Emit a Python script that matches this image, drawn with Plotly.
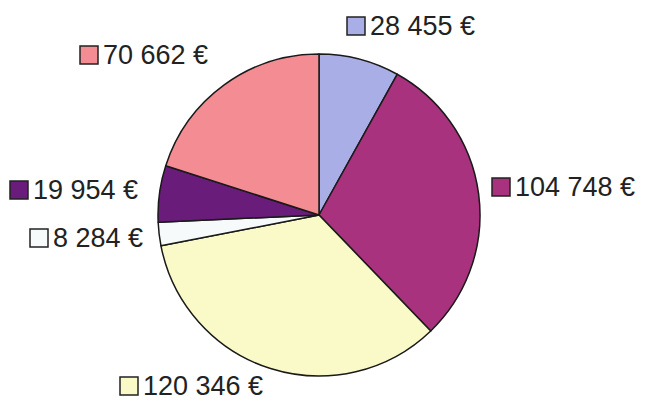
import plotly.graph_objects as go

labels = ["28 455 €", "104 748 €", "120 346 €", "8 284 €", "19 954 €", "70 662 €"]
values = [28455, 104748, 120346, 8284, 19954, 70662]
colors = ["#A9AEE6", "#A8327E", "#FAFAC8", "#F6FAFA", "#6A1C7A", "#F38D93"]

W, H = 647, 409
OFF = 8  # page body margin

# label anchor positions (page pixels: square left, center y)
label_pos = [(347, 26), (492, 187), (120, 386), (30, 238), (10, 190), (80, 55)]
SQ = 18

fig = go.Figure(go.Pie(
    values=values,
    labels=labels,
    sort=False,
    direction="clockwise",
    rotation=0,
    marker=dict(colors=colors, line=dict(color="#1a1a1a", width=1.5)),
    textinfo="none",
    hoverinfo="label+percent",
    showlegend=False,
    domain=dict(x=[150 / W, 472 / W], y=[1 - 368 / H, 1 - 46 / H]),
))

def px(x):
    return (x - OFF) / W

def py(y):
    return 1 - (y - OFF) / H

for lab, col, (sx, cy) in zip(labels, colors, label_pos):
    fig.add_shape(type="rect", xref="paper", yref="paper",
                  x0=px(sx), x1=px(sx + SQ), y0=py(cy + SQ / 2), y1=py(cy - SQ / 2),
                  fillcolor=col, line=dict(color="#222222", width=1.5))
    fig.add_annotation(x=px(sx + SQ + 3), y=py(cy), xref="paper", yref="paper",
                       text=lab, showarrow=False, xanchor="left", yanchor="middle",
                       font=dict(family="Liberation Sans, Arial, sans-serif", size=27, color="#222222"))

fig.update_layout(
    width=W, height=H,
    margin=dict(l=0, r=0, t=0, b=0),
    paper_bgcolor="white",
    plot_bgcolor="white",
)

fig.write_html("out.html")
